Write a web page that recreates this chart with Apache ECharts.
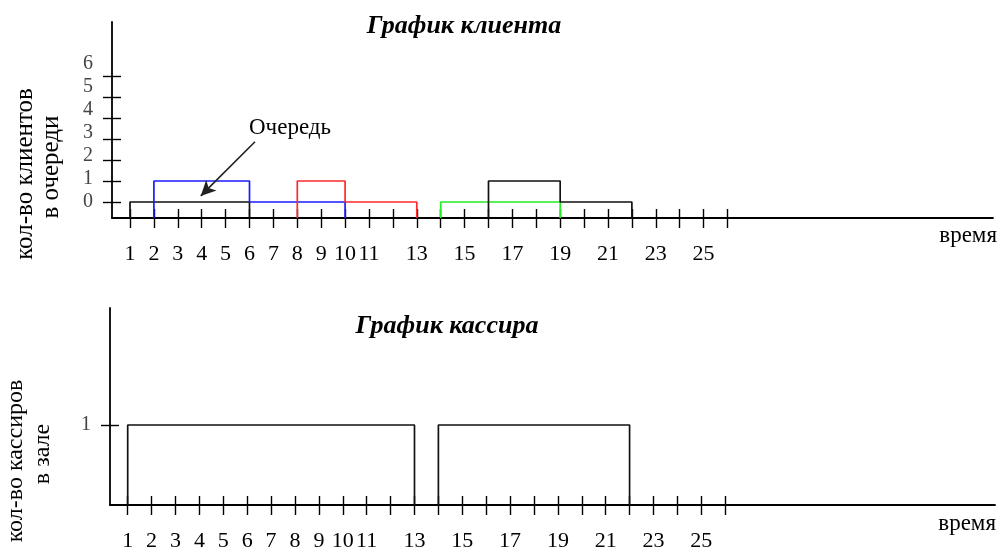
<!DOCTYPE html>
<html>
<head>
<meta charset="utf-8">
<script src="https://cdn.jsdelivr.net/npm/echarts@6/dist/echarts.min.js"></script>
<style>html,body{margin:0;padding:0;background:#fff;}#c{width:1000px;height:547px;}</style>
</head>
<body>
<div id="c"></div>
<script>
// ---- data ----
const timeTicks = [1,2,3,4,5,6,7,8,9,10,11,12,13,14,15,16,17,18,19,20,21,22,23,24,25,26];
const timeLabels = [1,2,3,4,5,6,7,8,9,10,11,13,15,17,19,21,23,25];
const queueTicks = [0,1,2,3,4,5,6];
const cashierTicks = [1];

// clients: change times and queue levels between them
const clientBlack1Times = [1, 6];      const clientBlack1Levels = [0];
const clientBlueTimes   = [2, 6, 10];  const clientBlueLevels   = [1, 0];
const clientRedTimes    = [8, 10, 13]; const clientRedLevels    = [1, 0];
const clientGreenTimes  = [14, 19];    const clientGreenLevels  = [0];
const clientBlack2Times = [16, 19, 22]; const clientBlack2Levels = [1, 0];

// cashier presence
const cashier1Times = [1, 13]; const cashier1Levels = [1];
const cashier2Times = [14, 22]; const cashier2Levels = [1];

// annotation arrow (time, queue)
const arrowFrom = [6.23, 2.87];
const arrowTo = [3.96, 0.29];

// ---- build ----
const Q_MIN = -0.762, Q_MAX = 8.571;
function steps(times, levels, base) {
  const pts = [[times[0], base]];
  for (let i = 0; i < levels.length; i++) {
    pts.push([times[i], levels[i]]);
    pts.push([times[i + 1], levels[i]]);
  }
  pts.push([times[times.length - 1], base]);
  return pts;
}
const serif = 'Liberation Serif';
function lineSeries(name, pts, color, xi, yi, extra) {
  return Object.assign({
    name, type: 'line', xAxisIndex: xi, yAxisIndex: yi, data: pts,
    showSymbol: false, symbol: 'none', silent: true,
    lineStyle: { color, width: 1.7 }, animation: false
  }, extra || {});
}
function xAx(grid, min, max, inside, margin) {
  return {
    type: 'value', gridIndex: grid, min, max, position: 'bottom',
    splitLine: { show: false },
    axisLine: { show: !inside, onZero: false, lineStyle: { color: '#000', width: 1.8 } },
    axisTick: { show: true, inside: !!inside, customValues: timeTicks, length: inside ? 9 : 10, lineStyle: { color: '#000', width: 1.4 } },
    axisLabel: inside ? { show: false } : { customValues: timeLabels, margin: margin, fontSize: 22, fontFamily: serif, color: '#000' }
  };
}
function yAx(grid, min, max, ticks, inside) {
  return {
    type: 'value', gridIndex: grid, min, max, position: 'left',
    splitLine: { show: false },
    axisLine: { show: !inside, onZero: false, lineStyle: { color: '#000', width: 1.8 } },
    axisTick: { show: true, inside: !!inside, customValues: ticks, length: 9, lineStyle: { color: '#000', width: 1.4 } },
    axisLabel: { show: false }
  };
}

const option = {
  backgroundColor: '#fff',
  animation: false,
  grid: [
    { left: 112, top: 22, width: 881, height: 196, outerBoundsMode: 'none', containLabel: false },
    { left: 110, top: 308, width: 885, height: 197, outerBoundsMode: 'none', containLabel: false }
  ],
  xAxis: [
    xAx(0, 0.2469, 37.11, false, 25),
    xAx(0, 0.2469, 37.11, true),
    xAx(1, 0.2594, 37.29, false, 25),
    xAx(1, 0.2594, 37.29, true)
  ],
  yAxis: [
    yAx(0, Q_MIN, Q_MAX, queueTicks, false),
    yAx(0, Q_MIN, Q_MAX, queueTicks, true),
    {
      type: 'value', gridIndex: 0, min: -0.717, max: 7.804, position: 'left',
      splitLine: { show: false }, axisLine: { show: false }, axisTick: { show: false },
      axisLabel: { customValues: queueTicks, margin: 19, fontSize: 20, fontFamily: serif, color: '#444' }
    },
    Object.assign(yAx(1, 0, 2.4625, cashierTicks, false), {
      axisLabel: { customValues: cashierTicks, margin: 19, fontSize: 20, fontFamily: serif, color: '#444' }
    }),
    yAx(1, 0, 2.4625, cashierTicks, true)
  ],
  series: [
    lineSeries('black1', steps(clientBlack1Times, clientBlack1Levels, Q_MIN), '#111', 0, 0, {
      markLine: {
        silent: true, symbol: ['none', 'arrow'], symbolSize: [11, 15],
        lineStyle: { color: '#222', width: 1.6, type: 'solid' }, label: { show: false },
        data: [[{ coord: arrowFrom }, { coord: arrowTo }]]
      }
    }),
    lineSeries('blue', steps(clientBlueTimes, clientBlueLevels, Q_MIN), '#1a1aff', 0, 0),
    lineSeries('red', steps(clientRedTimes, clientRedLevels, Q_MIN), '#ff2a2a', 0, 0),
    lineSeries('green', steps(clientGreenTimes, clientGreenLevels, Q_MIN), '#22ee22', 0, 0),
    lineSeries('black2', steps(clientBlack2Times, clientBlack2Levels, Q_MIN), '#111', 0, 0),
    lineSeries('cashier1', steps(cashier1Times, cashier1Levels, 0), '#111', 2, 3),
    lineSeries('cashier2', steps(cashier2Times, cashier2Levels, 0), '#111', 2, 3)
  ],
  graphic: [
    { type: 'text', x: 464, y: 26, style: { text: 'График клиента', font: 'italic bold 26px "Liberation Serif"', fill: '#000', align: 'center', verticalAlign: 'middle' } },
    { type: 'text', x: 447, y: 326, style: { text: 'График кассира', font: 'italic bold 26px "Liberation Serif"', fill: '#000', align: 'center', verticalAlign: 'middle' } },
    { type: 'text', x: 290, y: 128, style: { text: 'Очередь', font: '23px "Liberation Serif"', fill: '#000', align: 'center', verticalAlign: 'middle' } },
    { type: 'text', x: 997, y: 236, style: { text: 'время', font: '23px "Liberation Serif"', fill: '#000', align: 'right', verticalAlign: 'middle' } },
    { type: 'text', x: 996, y: 524, style: { text: 'время', font: '23px "Liberation Serif"', fill: '#000', align: 'right', verticalAlign: 'middle' } },
    { type: 'text', x: 25, y: 174, rotation: Math.PI / 2, style: { text: 'кол-во клиентов', font: '25px "Liberation Serif"', fill: '#000', align: 'center', verticalAlign: 'middle' } },
    { type: 'text', x: 51, y: 167, rotation: Math.PI / 2, style: { text: 'в очереди', font: '25px "Liberation Serif"', fill: '#000', align: 'center', verticalAlign: 'middle' } },
    { type: 'text', x: 16, y: 461, rotation: Math.PI / 2, style: { text: 'кол-во кассиров', font: '24px "Liberation Serif"', fill: '#000', align: 'center', verticalAlign: 'middle' } },
    { type: 'text', x: 43, y: 454, rotation: Math.PI / 2, style: { text: 'в зале', font: '24px "Liberation Serif"', fill: '#000', align: 'center', verticalAlign: 'middle' } }
  ]
};
const chart = echarts.init(document.getElementById('c'), null, { renderer: 'canvas' });
chart.setOption(option);
</script>
</body>
</html>
